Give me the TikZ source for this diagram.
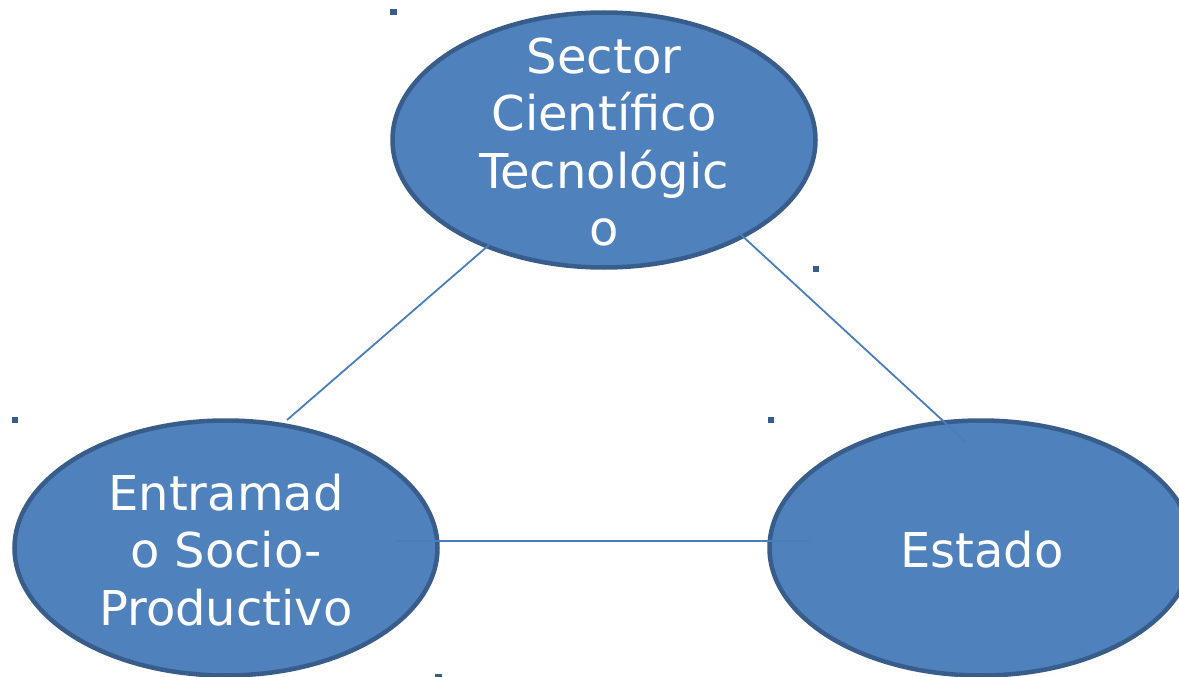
\documentclass[tikz,border=0pt]{standalone}
\usepackage{fontspec}
\setmainfont{DejaVu Sans}
\usetikzlibrary{shapes.geometric}
\definecolor{ovalfill}{HTML}{4F81BD}
\definecolor{ovaledge}{HTML}{385D8A}
\definecolor{linkblue}{HTML}{4A7EBB}

\begin{document}
\begin{tikzpicture}[x=1pt,y=-1pt,
  oval/.style={ellipse,draw=ovaledge,line width=4.5pt,fill=ovalfill,minimum width=423pt,minimum height=255pt,inner sep=0pt},
  ovaltext/.style={text=white,align=center,inner sep=0pt,font=\fontsize{48}{57.5}\selectfont},
  link/.style={draw=linkblue,line width=1.8pt},
  speck/.style={fill=ovaledge}]
\useasboundingbox (0,0) rectangle (1179,677);

\node [oval] (sct) at (604,140) {};
\node [oval] (esp) at (226,548) {};
\node [oval] (est) at (981,548) {};
\node [ovaltext] (sct-txt) at (604,142) {Sector\\Científico\\Tecnológic\\o};
\node [ovaltext] (esp-txt) at (226,550) {Entramad\\o Socio-\\Productivo};
\node [ovaltext] (est-txt) at (982,550) {Estado};

\coordinate (sct-l) at (489,245); \coordinate (esp-t) at (287,420);
\coordinate (sct-r) at (738,232); \coordinate (est-t) at (966,442);
\coordinate (esp-r) at (395,541); \coordinate (est-l) at (810,541);

\draw [link] (sct-l) -- (esp-t);
\draw [link] (sct-r) -- (est-t);
\draw [link] (esp-r) -- (est-l);

% stray marks
\fill [speck] (390,9) rectangle (397,15); \fill [speck] (813,266) rectangle (819,272);
\fill [speck] (12,417) rectangle (18,423); \fill [speck] (768,417) rectangle (774,423);
\fill [speck] (435,674) rectangle (442,677);

\end{tikzpicture}
\end{document}
